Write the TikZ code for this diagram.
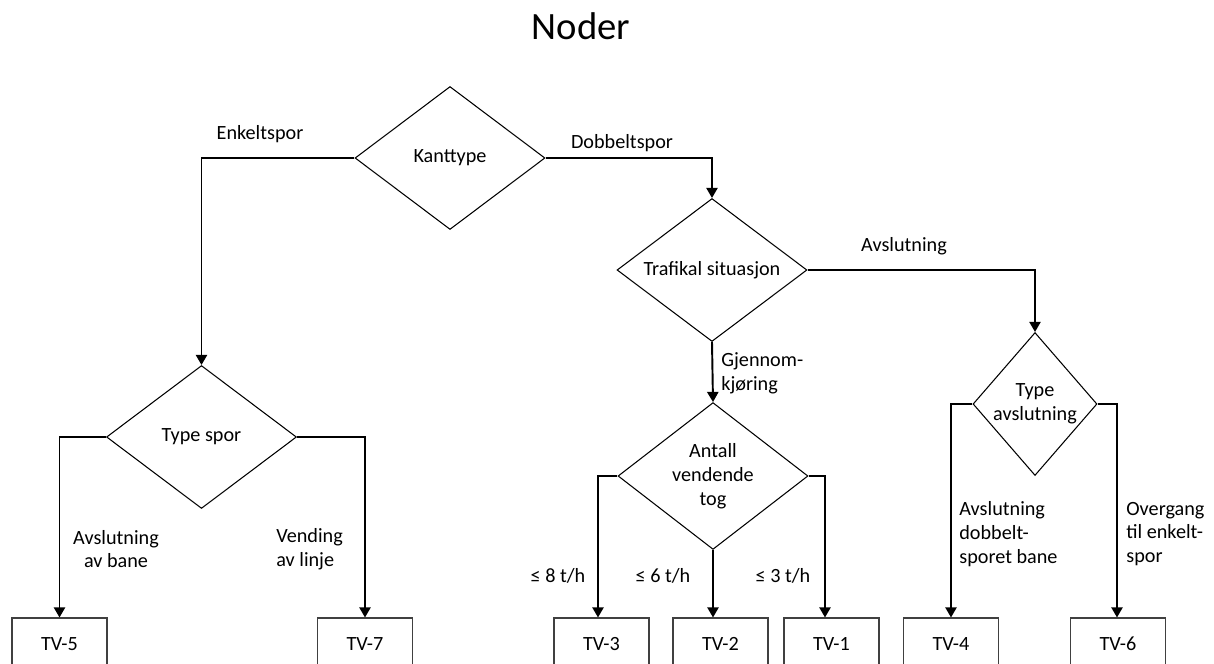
\documentclass[tikz,border=0pt]{standalone}
\usepackage{fontspec}
\setmainfont{Carlito}
\usetikzlibrary{shapes.geometric,arrows.meta}

\tikzset{
  valg/.style={diamond, draw, line width=0.6pt, inner sep=0pt, align=center,
    minimum width=3.8cm, minimum height=2.86cm},
  tvboks/.style={rectangle, draw=black!75, line width=0.6pt,
    minimum width=1.9cm, minimum height=1.04cm},
  flyt/.style={line width=1.1pt, -{Triangle[length=5.8pt,width=6.4pt]}},
  merke/.style={inner sep=0pt, align=left},
}

\begin{document}
\begin{tikzpicture}[x=0.02cm, y=-0.02cm, font=\fontsize{11.5}{13.6}\selectfont]
\clip (0,0) rectangle (1214,663);
% tittel
\node (tittel) at (581,26) {\fontsize{22}{26}\selectfont Noder};
% beslutninger
\node[valg] (kant) at (450,158) {Kanttype};
\node[valg, aspect=2] (traf) at (712,270) {Trafikal situasjon};
\node[valg] (tspor) at (201.5,437) {Type spor};
\node[valg] (ant) at (713,476) {Antall\\vendende\\tog};
\node[valg, minimum width=2.38cm] (tavs) at (1035,404) {Type\\avslutning};
% typevalg
\node[tvboks] (tv5) at (59.5,644) {TV-5};
\node[tvboks] (tv7) at (365,644) {TV-7};
\node[tvboks] (tv3) at (601.5,644) {TV-3};
\node[tvboks] (tv2) at (720.5,644) {TV-2};
\node[tvboks] (tv1) at (831.5,644) {TV-1};
\node[tvboks] (tv4) at (951,644) {TV-4};
\node[tvboks] (tv6) at (1118,644) {TV-6};
% piler
\draw[flyt] (kant.west) -| (tspor.north);
\draw[flyt] (kant.east) -| (traf.north);
\draw[flyt] (traf.east) -| (tavs.north);
\draw[flyt] (traf.south) -- (ant.north);
\draw[flyt] (tspor.west) -| (tv5.north);
\draw[flyt] (tspor.east) -| (tv7.north);
\draw[flyt] (ant.west) -| ([xshift=-0.07cm]tv3.north);
\draw[flyt] (ant.south) -- (ant.south |- tv2.north);
\draw[flyt] (ant.east) -| ([xshift=-0.13cm]tv1.north);
\draw[flyt] (tavs.west) -| (tv4.north);
\draw[flyt] (tavs.east) -| ([xshift=-0.02cm]tv6.north);
% etiketter
\node[merke] (l-enkel) at (260,134) {Enkeltspor};
\node[merke] (l-dobbel) at (622,143) {Dobbeltspor};
\node[merke] (l-avsl) at (904,246) {Avslutning};
\node[merke, anchor=west] (l-gjennom) at (721,373) {Gjennom-\\kjøring};
\node[merke, align=center] (l-bane) at (116,549) {Avslutning\\av bane};
\node[merke, anchor=west] (l-vend) at (276,549) {Vending\\av linje};
\node[merke] (l-8) at (558,576) {≤ 8 t/h};
\node[merke] (l-6) at (663,576) {≤ 6 t/h};
\node[merke] (l-3) at (783,576) {≤ 3 t/h};
\node[merke, anchor=west] (l-dobbelspor) at (959,534) {Avslutning\\dobbelt-\\sporet bane};
\node[merke, anchor=west] (l-overgang) at (1126,534) {Overgang\\til enkelt-\\spor};
\end{tikzpicture}
\end{document}
